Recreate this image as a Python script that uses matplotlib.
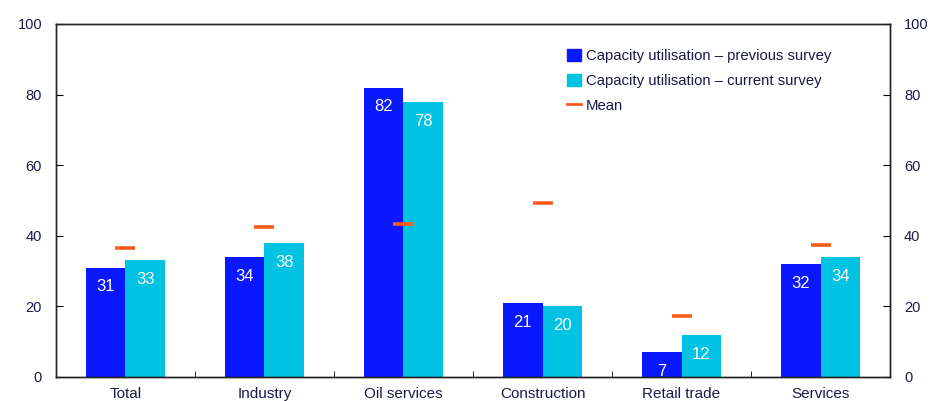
import numpy as np
import matplotlib.pyplot as plt
from matplotlib.lines import Line2D
from matplotlib.patches import Patch

plt.rcParams['font.family'] = ['Liberation Sans', 'DejaVu Sans']

# Data
categories = ['Total', 'Industry', 'Oil services', 'Construction', 'Retail trade', 'Services']
previous = [31, 34, 82, 21, 7, 32]
current = [33, 38, 78, 20, 12, 34]
mean = [36.4, 42.6, 43.3, 49.3, 17.4, 37.5]

c_prev = '#0a18ff'
c_cur = '#00c3e3'
c_mean = '#ff5a1a'
txt = '#1a1a4a'

fig = plt.figure(figsize=(9.3, 4.01), dpi=100)
ax = fig.add_axes([0.0602, 0.0599, 0.8968, 0.8803])

x = np.arange(len(categories))
w = 0.283
b1 = ax.bar(x - w / 2, previous, w, color=c_prev)
b2 = ax.bar(x + w / 2, current, w, color=c_cur)
ax.plot(x, mean, ls='none', marker='_', ms=14.5, mew=2.6, color=c_mean)

for bars, vals in [(b1, previous), (b2, current)]:
    for b, v in zip(bars, vals):
        ax.annotate(str(v), (b.get_x() + b.get_width() / 2, v), xytext=(0, -14),
                    textcoords='offset points', ha='center', va='center',
                    color='white', fontsize=12)

ax.set_xlim(-0.5, len(categories) - 0.5)
ax.set_ylim(0, 100)
ax.set_yticks(range(0, 101, 20))
ax.set_xticks(x)
ax.set_xticklabels(categories)
ax.tick_params(axis='x', length=0, labelsize=11, colors=txt, pad=7)
ax.set_xticks(np.arange(0.5, len(categories) - 0.5), minor=True)
ax.tick_params(axis='x', which='minor', direction='in', length=4)
ax.tick_params(axis='y', direction='in', length=5, labelsize=10.5, labelcolor=txt, pad=10)

ax2 = ax.twinx()
ax2.set_ylim(0, 100)
ax2.set_yticks(range(0, 101, 20))
ax2.tick_params(axis='y', direction='in', length=5, labelsize=10.5, labelcolor=txt, pad=10)

for a in (ax, ax2):
    for s in a.spines.values():
        s.set_linewidth(1.0)
        s.set_color('#222222')

handles = [Patch(color=c_prev), Patch(color=c_cur),
           Line2D([], [], color=c_mean, lw=2)]
labels = ['Capacity utilisation \u2013 previous survey',
          'Capacity utilisation \u2013 current survey', 'Mean']
leg = ax.legend(handles, labels, loc='upper left', bbox_to_anchor=(0.597, 0.968),
                frameon=False, fontsize=10.7, handlelength=0.9, handleheight=0.9,
                handletextpad=0.35, labelspacing=0.72, labelcolor=txt)

fig.savefig('out.png', dpi=100)
